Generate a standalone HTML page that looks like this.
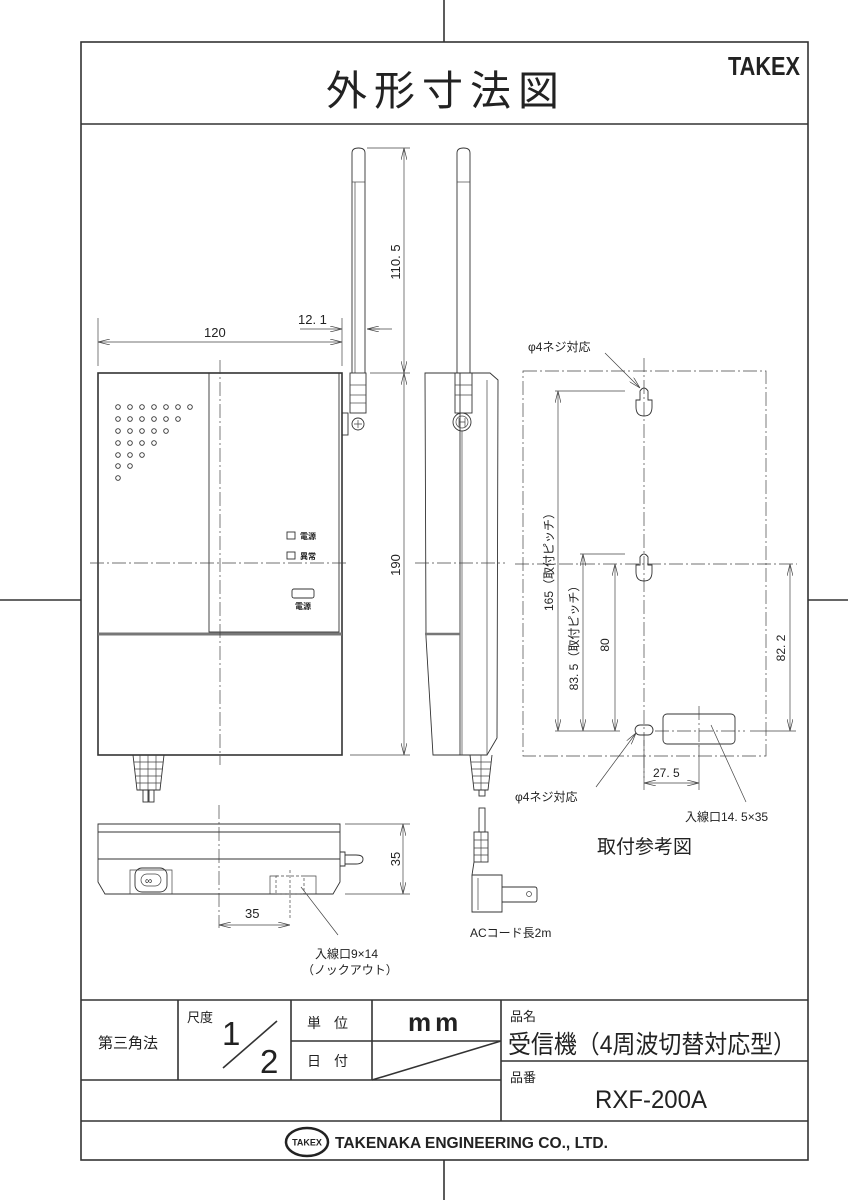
<!DOCTYPE html>
<html><head><meta charset="utf-8"><style>
html,body{margin:0;padding:0;background:#fff}
svg{display:block}
text{font-family:"Liberation Sans","Noto Sans CJK JP",sans-serif;fill:#222}
.t{stroke:#333;stroke-width:0.9;fill:none}
.k{stroke:#333;stroke-width:1.6;fill:none}
.d{stroke:#444;stroke-width:0.7;fill:none}
.c{stroke:#444;stroke-width:0.7;fill:none;stroke-dasharray:14 3 2 3}
</style></head><body>
<svg width="848" height="1200" viewBox="0 0 848 1200" xmlns="http://www.w3.org/2000/svg">
<defs>
<marker id="a" markerWidth="12" markerHeight="6" refX="12" refY="3" orient="auto-start-reverse" markerUnits="userSpaceOnUse"><path d="M0,0 L12,3 L0,6" fill="none" stroke="#444" stroke-width="0.7"/></marker>
</defs>
<line x1="444" y1="0" x2="444" y2="42" class="k"/>
<line x1="444" y1="1160" x2="444" y2="1200" class="k"/>
<line x1="0" y1="600" x2="81" y2="600" class="k"/>
<line x1="808" y1="600" x2="848" y2="600" class="k"/>
<rect x="81" y="42" width="727" height="1118" class="k"/>
<line x1="81" y1="124" x2="808" y2="124" class="k"/>
<text x="326" y="105" font-size="41" letter-spacing="7">外形寸法図</text>
<text x="728" y="75" font-size="26" font-weight="bold" textLength="72" lengthAdjust="spacingAndGlyphs">TAKEX</text>

<!-- FRONT VIEW -->
<rect x="98" y="373" width="244" height="382" class="k" stroke-width="1.3"/>
<rect x="209" y="373" width="130" height="259" class="t"/>
<line x1="98" y1="634" x2="342" y2="634" stroke="#777" stroke-width="3"/>
<line x1="220" y1="360" x2="220" y2="765" class="c"/>
<line x1="90" y1="563" x2="349" y2="563" class="c"/>
<g class="t" stroke-width="0.8">
<circle cx="118" cy="407" r="2.3"/><circle cx="130" cy="407" r="2.3"/><circle cx="142" cy="407" r="2.3"/><circle cx="154" cy="407" r="2.3"/><circle cx="166" cy="407" r="2.3"/><circle cx="178" cy="407" r="2.3"/><circle cx="190" cy="407" r="2.3"/>
<circle cx="118" cy="419" r="2.3"/><circle cx="130" cy="419" r="2.3"/><circle cx="142" cy="419" r="2.3"/><circle cx="154" cy="419" r="2.3"/><circle cx="166" cy="419" r="2.3"/><circle cx="178" cy="419" r="2.3"/>
<circle cx="118" cy="431" r="2.3"/><circle cx="130" cy="431" r="2.3"/><circle cx="142" cy="431" r="2.3"/><circle cx="154" cy="431" r="2.3"/><circle cx="166" cy="431" r="2.3"/>
<circle cx="118" cy="443" r="2.3"/><circle cx="130" cy="443" r="2.3"/><circle cx="142" cy="443" r="2.3"/><circle cx="154" cy="443" r="2.3"/>
<circle cx="118" cy="455" r="2.3"/><circle cx="130" cy="455" r="2.3"/><circle cx="142" cy="455" r="2.3"/>
<circle cx="118" cy="466" r="2.3"/><circle cx="130" cy="466" r="2.3"/>
<circle cx="118" cy="478" r="2.3"/>
</g>
<rect x="287" y="532" width="8" height="7" class="t"/>
<text x="300" y="539" font-size="8" font-weight="bold">電源</text>
<rect x="287" y="552" width="8" height="7" class="t"/>
<text x="300" y="559" font-size="8" font-weight="bold">異常</text>
<rect x="292" y="589" width="22" height="9" rx="2" class="t" stroke-width="1.3"/>
<text x="295" y="609" font-size="8" font-weight="bold">電源</text>
<path d="M352,373 L352,153 Q352,148 358.5,148 Q365,148 365,153 L365,373" class="t"/>
<line x1="352" y1="182" x2="365" y2="182" class="d"/>
<line x1="355" y1="182" x2="355" y2="373" class="d"/>
<rect x="350" y="373" width="16" height="40" class="t"/>
<line x1="350" y1="385" x2="366" y2="385" class="d"/><line x1="350" y1="395" x2="366" y2="395" class="d"/><line x1="350" y1="403" x2="366" y2="403" class="d"/>
<rect x="342" y="413" width="6" height="22" class="t"/>
<circle cx="358" cy="424" r="6" class="t"/>
<path d="M354,424 H362 M358,420 V428" class="d"/>
<path d="M133,755 L137,790 L160,790 L164,755" class="t"/>
<path d="M134,762 H163 M135,769 H162 M136,776 H161 M136,783 H161 M140,755 V790 M148,755 V790 M156,755 V790" class="d"/>
<rect x="143" y="790" width="5" height="12" class="t"/><rect x="149" y="790" width="5" height="12" class="t"/>
<line x1="98" y1="318" x2="98" y2="366" class="d"/>
<line x1="342" y1="318" x2="342" y2="366" class="d"/>
<line x1="98" y1="342" x2="342" y2="342" class="d" marker-start="url(#a)" marker-end="url(#a)"/>
<text x="204" y="337" font-size="13" style="font-family:'Liberation Sans Narrow','Liberation Sans',sans-serif">120</text>
<line x1="300" y1="329" x2="342" y2="329" class="d" marker-end="url(#a)"/>
<line x1="367" y1="329" x2="392" y2="329" class="d"/>
<path d="M380,329 L367,329" class="d" marker-end="url(#a)"/>
<text x="298" y="324" font-size="13" style="font-family:'Liberation Sans Narrow','Liberation Sans',sans-serif">12. 1</text>
<line x1="367" y1="148" x2="410" y2="148" class="d"/>
<line x1="370" y1="373" x2="410" y2="373" class="d"/>
<line x1="350" y1="755" x2="410" y2="755" class="d"/>
<line x1="404" y1="148" x2="404" y2="373" class="d" marker-start="url(#a)" marker-end="url(#a)"/>
<line x1="404" y1="373" x2="404" y2="755" class="d" marker-start="url(#a)" marker-end="url(#a)"/>
<text transform="translate(400,262) rotate(-90)" text-anchor="middle" font-size="13" style="font-family:'Liberation Sans Narrow','Liberation Sans',sans-serif">110. 5</text>
<text transform="translate(400,565) rotate(-90)" text-anchor="middle" font-size="13" style="font-family:'Liberation Sans Narrow','Liberation Sans',sans-serif">190</text>

<!-- SIDE VIEW -->
<path d="M425,373 L490,373 L498,380 L497,738 L487,755 L433,755 L426,637 L425,373 Z" class="t" stroke-width="1.1"/>
<line x1="460" y1="373" x2="460" y2="755" class="t"/>
<line x1="487" y1="380" x2="487" y2="755" class="d"/>
<line x1="425" y1="634" x2="460" y2="634" stroke="#777" stroke-width="2.5"/>
<line x1="415" y1="563" x2="505" y2="563" class="c"/>
<path d="M457,373 L457,153 Q457,148 463.5,148 Q470,148 470,153 L470,373" class="t"/>
<line x1="457" y1="182" x2="470" y2="182" class="d"/>
<rect x="455" y="373" width="17" height="40" class="t"/>
<line x1="455" y1="385" x2="472" y2="385" class="d"/><line x1="455" y1="395" x2="472" y2="395" class="d"/>
<circle cx="462" cy="422" r="9" class="t" stroke-width="1.4"/>
<circle cx="462" cy="422" r="6" class="d"/>
<path d="M459,418 V427 M465,418 V427 M459,422 H465" class="d"/>
<line x1="462" y1="431" x2="462" y2="755" class="d"/>
<path d="M470,755 L474,790 L488,790 L492,755" class="t"/>
<path d="M471,762 H491 M472,769 H490 M473,776 H489 M473,783 H489 M481,755 V790" class="d"/>
<rect x="479" y="790" width="6" height="6" class="t"/>
<rect x="479" y="808" width="6" height="24" class="t"/>
<rect x="474" y="832" width="14" height="30" class="t"/>
<path d="M474,840 H488 M474,848 H488 M474,855 H488 M481,832 V862" class="d"/>
<path d="M474,862 L472,875 L502,875 L502,912 L472,912 L472,875" class="t"/>
<line x1="478" y1="878" x2="478" y2="910" class="d"/>
<path d="M502,887 H535 Q537,887 537,890 V899 Q537,902 535,902 H502" class="t"/>
<circle cx="529" cy="894" r="2.5" class="d"/>
<text x="470" y="937" font-size="12" style="font-family:'Liberation Sans Narrow','Liberation Sans','Noto Sans CJK JP',sans-serif">ACコード長2m</text>

<!-- BOTTOM VIEW -->
<path d="M98,824 H340 V882 L333,894 H105 L98,882 Z" class="t" stroke-width="1.1"/>
<line x1="98" y1="832" x2="340" y2="832" class="t"/>
<line x1="98" y1="859" x2="340" y2="859" class="t" stroke-width="1.5"/>
<path d="M130,894 V870 H172 V894 M270,894 V876 H278 M304,876 H316 V894" class="d"/>
<rect x="135" y="868" width="32" height="24" rx="7" class="t"/>
<rect x="141" y="874" width="20" height="12" rx="6" class="d"/>
<text x="145" y="884" font-size="10">∞</text>
<rect x="276" y="876" width="28" height="18" class="d" stroke-dasharray="3 2"/>
<line x1="290" y1="870" x2="290" y2="920" class="d" stroke-dasharray="3 2"/>
<path d="M340,852 H345 V866 H340 M345,855 H356 Q363,855 363,859 Q363,864 356,864 H345" class="t"/>
<line x1="219" y1="805" x2="219" y2="928" class="c"/>
<line x1="345" y1="824" x2="410" y2="824" class="d"/>
<line x1="345" y1="894" x2="410" y2="894" class="d"/>
<line x1="403" y1="824" x2="403" y2="894" class="d" marker-start="url(#a)" marker-end="url(#a)"/>
<text transform="translate(400,859) rotate(-90)" text-anchor="middle" font-size="13" style="font-family:'Liberation Sans Narrow','Liberation Sans',sans-serif">35</text>
<line x1="219" y1="925" x2="290" y2="925" class="d" marker-start="url(#a)" marker-end="url(#a)"/>
<text x="245" y="918" font-size="13" style="font-family:'Liberation Sans Narrow','Liberation Sans',sans-serif">35</text>
<line x1="301" y1="887" x2="338" y2="935" class="d"/>
<text x="315" y="958" font-size="12" style="font-family:'Liberation Sans Narrow','Liberation Sans','Noto Sans CJK JP',sans-serif">入線口9×14</text>
<text x="302" y="974" font-size="12" style="font-family:'Liberation Sans Narrow','Liberation Sans','Noto Sans CJK JP',sans-serif">（ノックアウト）</text>

<!-- MOUNT VIEW -->
<rect x="523" y="371" width="243" height="385" class="c"/>
<line x1="644" y1="358" x2="644" y2="778" class="c"/>
<line x1="515" y1="564" x2="797" y2="564" class="c"/>
<path d="M640,400 V391 Q644,385 648,391 V400 H652 V407 Q652,416 644,416 Q636,416 636,407 V400 Z" class="t"/>
<path d="M640,565 V557 Q644,551 648,557 V565 H652 V572 Q652,581 644,581 Q636,581 636,572 V565 Z" class="t"/>
<rect x="635" y="725" width="18" height="10" rx="5" class="t"/>
<rect x="663" y="714" width="72" height="30" rx="4" class="t"/>
<line x1="699" y1="706" x2="699" y2="750" class="c"/>
<line x1="655" y1="731" x2="745" y2="731" class="c"/>
<line x1="555" y1="391" x2="625" y2="391" class="d"/>
<line x1="580" y1="554" x2="625" y2="554" class="d"/>
<line x1="555" y1="731" x2="620" y2="731" class="d"/>
<line x1="750" y1="731" x2="796" y2="731" class="d"/>
<line x1="558" y1="391" x2="558" y2="731" class="d" marker-start="url(#a)" marker-end="url(#a)"/>
<line x1="583" y1="554" x2="583" y2="731" class="d" marker-start="url(#a)" marker-end="url(#a)"/>
<line x1="615" y1="564" x2="615" y2="731" class="d" marker-start="url(#a)" marker-end="url(#a)"/>
<line x1="790" y1="564" x2="790" y2="731" class="d" marker-start="url(#a)" marker-end="url(#a)"/>
<text transform="translate(553,559) rotate(-90)" text-anchor="middle" font-size="12" style="font-family:'Liberation Sans Narrow','Liberation Sans','Noto Sans CJK JP',sans-serif">165（取付ピッチ）</text>
<text transform="translate(578,635) rotate(-90)" text-anchor="middle" font-size="12" style="font-family:'Liberation Sans Narrow','Liberation Sans','Noto Sans CJK JP',sans-serif">83. 5（取付ピッチ）</text>
<text transform="translate(609,645) rotate(-90)" text-anchor="middle" font-size="12" style="font-family:'Liberation Sans Narrow','Liberation Sans',sans-serif">80</text>
<text transform="translate(785,648) rotate(-90)" text-anchor="middle" font-size="12" style="font-family:'Liberation Sans Narrow','Liberation Sans',sans-serif">82. 2</text>
<line x1="644" y1="740" x2="644" y2="790" class="d"/>
<line x1="699" y1="745" x2="699" y2="790" class="d"/>
<line x1="644" y1="783" x2="699" y2="783" class="d" marker-start="url(#a)" marker-end="url(#a)"/>
<text x="653" y="777" font-size="12" style="font-family:'Liberation Sans Narrow','Liberation Sans',sans-serif">27. 5</text>
<text x="528" y="351" font-size="12" style="font-family:'Liberation Sans Narrow','Liberation Sans','Noto Sans CJK JP',sans-serif">φ4ネジ対応</text>
<line x1="605" y1="353" x2="640" y2="388" class="d" marker-end="url(#a)"/>
<text x="515" y="801" font-size="12" style="font-family:'Liberation Sans Narrow','Liberation Sans','Noto Sans CJK JP',sans-serif">φ4ネジ対応</text>
<line x1="596" y1="787" x2="636" y2="733" class="d" marker-end="url(#a)"/>
<line x1="711" y1="725" x2="746" y2="802" class="d"/>
<text x="685" y="821" font-size="12" style="font-family:'Liberation Sans Narrow','Liberation Sans','Noto Sans CJK JP',sans-serif">入線口14. 5×35</text>
<text x="597" y="853" font-size="19">取付参考図</text>

<!-- TITLE BLOCK -->
<line x1="81" y1="1000" x2="808" y2="1000" class="k"/>
<line x1="81" y1="1080" x2="501" y2="1080" class="k"/>
<line x1="81" y1="1121" x2="808" y2="1121" class="k"/>
<line x1="178" y1="1000" x2="178" y2="1080" class="k"/>
<line x1="291" y1="1000" x2="291" y2="1080" class="k"/>
<line x1="372" y1="1000" x2="372" y2="1080" class="k"/>
<line x1="501" y1="1000" x2="501" y2="1121" class="k"/>
<line x1="291" y1="1041" x2="501" y2="1041" class="k"/>
<line x1="501" y1="1061" x2="808" y2="1061" class="k"/>
<line x1="372" y1="1080" x2="501" y2="1041" class="k"/>
<text x="98" y="1048" font-size="15">第三角法</text>
<text x="187" y="1022" font-size="13">尺度</text>
<text x="222" y="1045" font-size="33">1</text>
<line x1="223" y1="1068" x2="277" y2="1021" class="k" stroke-width="1.3"/>
<text x="260" y="1073" font-size="33">2</text>
<text x="307" y="1028" font-size="14" letter-spacing="13">単位</text>
<text x="307" y="1066" font-size="14" letter-spacing="13">日付</text>
<text x="408" y="1031" font-size="26" font-weight="bold" letter-spacing="4">mm</text>
<text x="510" y="1021" font-size="13">品名</text>
<text x="508" y="1053" font-size="25" textLength="288" lengthAdjust="spacingAndGlyphs">受信機（4周波切替対応型）</text>
<text x="510" y="1082" font-size="13">品番</text>
<text x="595" y="1108" font-size="25" textLength="112" lengthAdjust="spacingAndGlyphs">RXF-200A</text>
<ellipse cx="307" cy="1142" rx="21" ry="14" fill="none" stroke="#222" stroke-width="2.5"/>
<text x="307" y="1145.5" font-size="9" text-anchor="middle" font-weight="bold">TAKEX</text>
<text x="335" y="1148" font-size="16" font-weight="bold" textLength="273" lengthAdjust="spacingAndGlyphs">TAKENAKA ENGINEERING CO., LTD.</text>
</svg>
</body></html>
